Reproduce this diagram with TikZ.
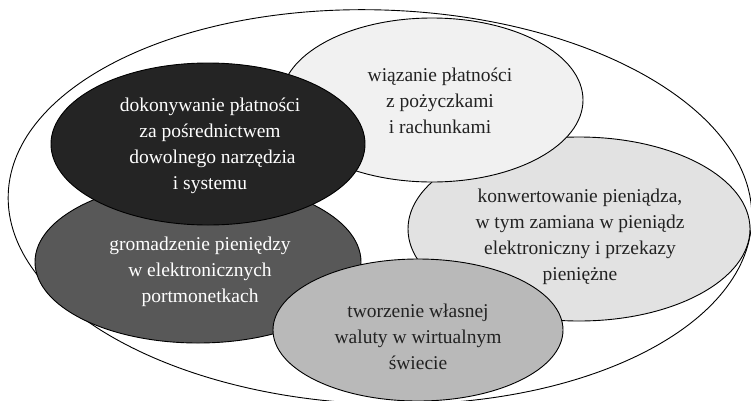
\documentclass[tikz,border=0pt]{standalone}
\usepackage{fontspec}
\setmainfont{Liberation Serif}
\usetikzlibrary{shapes.geometric}
\definecolor{cDark}{HTML}{242424}
\definecolor{cMid}{HTML}{585858}
\definecolor{cGrey}{HTML}{B9B9B9}
\definecolor{cLight}{HTML}{E2E2E2}
\definecolor{cPale}{HTML}{F1F1F1}
\definecolor{cInk}{HTML}{222222}
\tikzset{
  blob/.style={ellipse, draw=black, line width=0.9pt, inner sep=0pt},
  lbl/.style={align=center, font=\fontsize{19.5}{26}\selectfont, inner sep=0pt},
}
\begin{document}
\begin{tikzpicture}[x=1pt,y=-1pt]
\useasboundingbox (0,0) rectangle (751,400);
% outer
\node[blob, fill=white, minimum width=744, minimum height=394, rotate=-2] (outer) at (380,207) {};
% ellipses
\node[blob, fill=cLight, minimum width=342, minimum height=184] (conv) at (579,229) {};
\node[blob, fill=cPale, minimum width=302, minimum height=164] (wiaz) at (432,100) {};
\node[blob, fill=cMid, minimum width=326, minimum height=162] (grom) at (198,262) {};
\node[blob, fill=cDark, minimum width=314, minimum height=162] (dok) at (208,144) {};
\node[blob, fill=cGrey, minimum width=290, minimum height=142] (tworz) at (418,330) {};
% texts
\node[lbl, text=cInk] (twiaz) at (440,101) {wiązanie płatności\\z pożyczkami\\i rachunkami};
\node[lbl, text=white] (tdok) at (210,146) {dokonywanie płatności\\za pośrednictwem\\\hspace*{5pt}dowolnego narzędzia\\i systemu};
\node[lbl, text=white] (tgrom) at (200,272) {gromadzenie pieniędzy\\w elektronicznych\\portmonetkach};
\node[lbl, text=cInk] (tconv) at (580,237) {konwertowanie pieniądza,\\w tym zamiana w pieniądz\\elektroniczny i przekazy\\pieniężne};
\node[lbl, text=cInk] (ttworz) at (418,337) {tworzenie własnej\\waluty w wirtualnym\\świecie};
\end{tikzpicture}
\end{document}
